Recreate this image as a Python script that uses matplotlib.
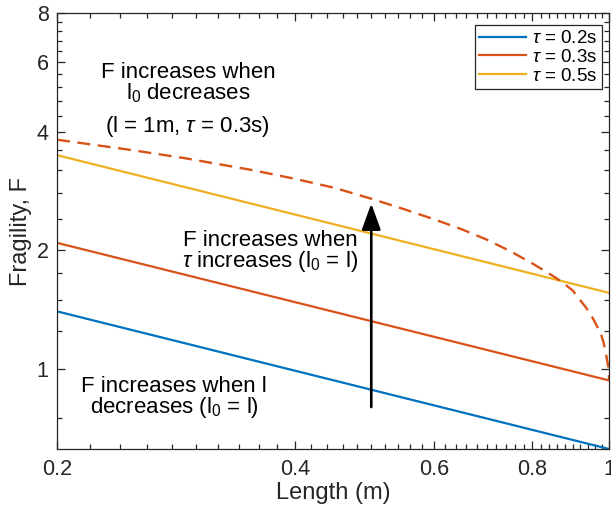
import numpy as np
import matplotlib.pyplot as plt
from matplotlib.ticker import FixedLocator, NullFormatter

plt.rcParams['font.family'] = ['Liberation Sans', 'DejaVu Sans']
plt.rcParams['mathtext.fontset'] = 'custom'
plt.rcParams['mathtext.rm'] = 'Liberation Sans'
plt.rcParams['mathtext.it'] = 'Liberation Sans:italic'

# pendulum length (m) and fragility for three reaction times, l0 = l
length = [0.2, 1.0]
frag_tau02 = [1.40, 0.626]
frag_tau03 = [2.09, 0.935]
frag_tau05 = [3.49, 1.56]

# fragility vs l0 for l = 1 m, tau = 0.3 s
l0 = [0.2, 0.25, 0.29, 0.35, 0.40, 0.45, 0.50, 0.55, 0.60, 0.65, 0.70,
      0.75, 0.80, 0.85, 0.873, 0.90, 0.935, 0.955, 0.977, 0.985, 0.993,
      0.998, 1.0, 1.0]
frag_l0 = [3.82, 3.59, 3.43, 3.21, 3.04, 2.88, 2.705, 2.545, 2.40, 2.265, 2.13,
           1.99, 1.852, 1.72, 1.66, 1.58, 1.432, 1.34, 1.226, 1.16, 1.07,
           1.01, 0.97, 0.935]

# arrow from tau = 0.2 s up towards the dashed curve
arrow_x = 0.5
arrow_y = [0.8, 2.63]

x_ticks = [0.2, 0.4, 0.6, 0.8, 1]
x_tick_labels = ['0.2', '0.4', '0.6', '0.8', '1']
y_ticks = [1, 2, 4, 6, 8]
y_tick_labels = ['1', '2', '4', '6', '8']
x_minor = [0.22, 0.24, 0.26, 0.28, 0.30, 0.32, 0.34, 0.36, 0.38,
           0.42, 0.44, 0.46, 0.48, 0.50, 0.52, 0.54, 0.56, 0.58,
           0.62, 0.64, 0.66, 0.68, 0.70, 0.72, 0.74, 0.76, 0.78,
           0.82, 0.84, 0.86, 0.88, 0.90, 0.92, 0.94, 0.96, 0.98]
y_minor = [0.75, 1.25, 1.5, 1.75, 2.4, 2.8, 3.2, 3.6,
           4.4, 4.8, 5.2, 5.6, 6.4, 6.8, 7.2, 7.6]

blue = '#0072BD'
orange = '#D95319'
yellow = '#EDB120'
axcol = '#262626'

fig = plt.figure(figsize=(6.11, 5.08), dpi=100)
ax = fig.add_axes([57 / 611, 1 - 449 / 508, 552 / 611, 435.7 / 508])

ax.plot(length, frag_tau02, color=blue, lw=1.6, label=r'$\tau$ = 0.2s')
ax.plot(length, frag_tau03, color=orange, lw=1.6, label=r'$\tau$ = 0.3s')
ax.plot(length, frag_tau05, color=yellow, lw=1.6, label=r'$\tau$ = 0.5s')
ax.plot(l0, frag_l0, color=orange, lw=1.7, linestyle=(0, (5.5, 3.2)))

ax.annotate('', xy=(arrow_x, arrow_y[1]), xytext=(arrow_x, arrow_y[0]),
            arrowprops=dict(arrowstyle='-|>,head_length=1.6,head_width=0.58',
                            color='k', lw=1.9, shrinkA=0, shrinkB=0))

ax.set_xscale('log')
ax.set_yscale('log')
ax.set_xlim(0.2, 1)
ax.set_ylim(0.626, 8)

ax.xaxis.set_major_locator(FixedLocator(x_ticks))
ax.set_xticklabels(x_tick_labels)
ax.yaxis.set_major_locator(FixedLocator(y_ticks))
ax.set_yticklabels(y_tick_labels)
ax.xaxis.set_minor_locator(FixedLocator(x_minor))
ax.yaxis.set_minor_locator(FixedLocator(y_minor))
ax.xaxis.set_minor_formatter(NullFormatter())
ax.yaxis.set_minor_formatter(NullFormatter())

ax.tick_params(which='both', direction='in', top=True, right=True,
               color=axcol, labelcolor=axcol, width=0.9, labelsize=15.5)
ax.tick_params(which='major', length=6)
ax.tick_params(which='minor', length=3.5)
ax.tick_params(axis='x', pad=7)
ax.tick_params(axis='y', pad=6)
for sp in ax.spines.values():
    sp.set_color(axcol)
    sp.set_linewidth(0.9)

ax.set_xlabel('Length (m)', fontsize=17, color=axcol)
ax.set_ylabel('Fragility, F', fontsize=17, color=axcol)
ax.xaxis.set_label_coords(0.5, -0.075)
ax.yaxis.set_label_coords(-0.046, 0.5)

leg = ax.legend(loc='upper right', bbox_to_anchor=(0.9868, 0.972),
                fontsize=13.5, handlelength=2.5, handletextpad=0.3,
                labelspacing=0.08, borderpad=0.25, borderaxespad=0,
                fancybox=False, framealpha=1, edgecolor=axcol)
leg.get_frame().set_linewidth(0.9)

txt = dict(transform=ax.transAxes, ha='center', va='baseline', fontsize=16)
ax.text(0.237, 0.851, 'F increases when', **txt)
ax.text(0.237, 0.803, r'l$_0$ decreases', **txt)
ax.text(0.237, 0.728, r'(l = 1m, $\tau$ = 0.3s)', **txt)

ax.text(0.386, 0.467, 'F increases when', **txt)
ax.text(0.386, 0.418, r'$\tau$ increases (l$_0$ = l)', **txt)

ax.text(0.212, 0.1315, 'F increases when l', **txt)
ax.text(0.212, 0.082, r'decreases (l$_0$ = l)', **txt)

fig.savefig('out.png', dpi=100, facecolor='white')
